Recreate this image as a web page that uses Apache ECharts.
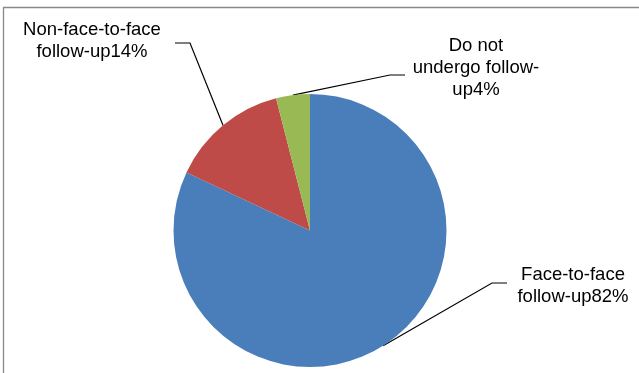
<!DOCTYPE html>
<html><head><meta charset="utf-8">
<script src="https://cdn.jsdelivr.net/npm/echarts@6/dist/echarts.min.js"></script>
<style>html,body{margin:0;padding:0;background:#fff}#c{width:639px;height:373px}</style>
</head><body><div id="c"></div>
<script>
const categories = ['Face-to-face follow-up', 'Non-face-to-face follow-up', 'Do not undergo follow-up'];
const values = [82, 14, 4];
const labelTexts = ['Face-to-face\nfollow-up82%', 'Non-face-to-face\nfollow-up14%', 'Do not\nundergo follow-\nup4%'];
const colors = ['#4a7ebb', '#be4b48', '#98b954'];

// label block centres and leader-line elbows (layout only)
const labelPlace = [
  {x: 573, y: 286, bendX: 492, endX: 507, lineY: 283},
  {x: 92, y: 41, bendX: 190, endX: 175, lineY: 43},
  {x: 476, y: 68, bendX: 390, endX: 405, lineY: 75}
];

const chart = echarts.init(document.getElementById('c'), null, {renderer: 'canvas'});
chart.setOption({
  animation: false,
  backgroundColor: '#fff',
  graphic: [{
    type: 'rect', z: -10, silent: true,
    shape: {x: 3.5, y: 7.5, width: 700, height: 500},
    style: {fill: 'none', stroke: '#898989', lineWidth: 1.3}
  }],
  series: [{
    type: 'pie',
    center: [310, 230.5],
    radius: 136.5,
    startAngle: 90,
    clockwise: true,
    avoidLabelOverlap: false,
    data: categories.map((c, i) => ({name: c, value: values[i], itemStyle: {color: colors[i]}})),
    label: {
      show: true,
      position: 'outside',
      formatter: p => labelTexts[p.dataIndex],
      fontFamily: 'Liberation Sans, Arial, sans-serif',
      fontSize: 18.5,
      lineHeight: 22,
      color: '#000',
      align: 'center'
    },
    labelLine: {show: true, length: 20, length2: 15, smooth: false, lineStyle: {color: '#000', width: 1.2}},
    labelLayout: function (params) {
      const lp = labelPlace[params.dataIndex];
      const start = params.labelLinePoints ? params.labelLinePoints[0] : null;
      const out = {x: lp.x, y: lp.y, align: 'center', verticalAlign: 'middle'};
      if (start) {
        out.labelLinePoints = [start, [lp.bendX, lp.lineY], [lp.endX, lp.lineY]];
      }
      return out;
    }
  }]
});
</script></body></html>
